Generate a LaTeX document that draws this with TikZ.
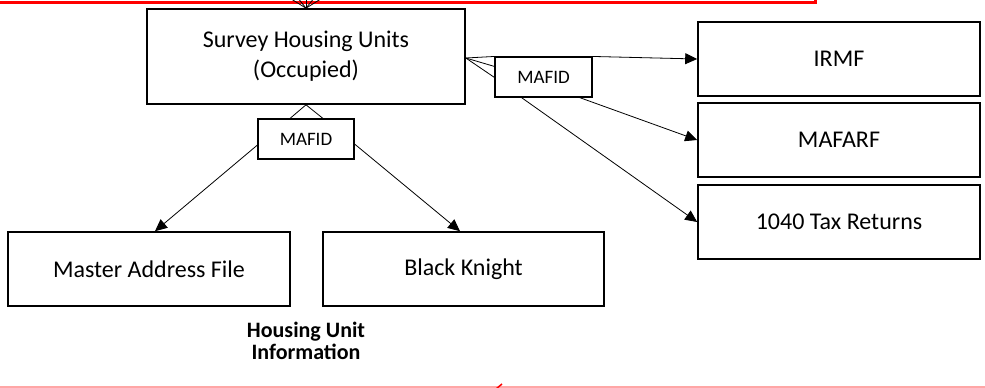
\documentclass[tikz,border=0pt]{standalone}
\usepackage{fontspec}
\setmainfont{Carlito}
\usetikzlibrary{arrows.meta,calc}
\tikzset{
  box/.style={draw, line width=1.6pt, rectangle, inner sep=0pt, minimum width=282pt, minimum height=74pt, align=center, font=\fontsize{24}{30}\selectfont},
  keybox/.style={draw, line width=1.1pt, rectangle, inner sep=0pt, minimum width=96pt, minimum height=40pt, font=\fontsize{19}{23}\selectfont},
  conn/.style={line width=0.8pt},
  arr/.style={line width=0.8pt, -{Triangle[length=12pt,width=11pt]}},
}
\begin{document}
\begin{tikzpicture}[x=1pt,y=-1pt]
\useasboundingbox (0,0) rectangle (985,388);
% nodes
\node[box, minimum width=318pt, minimum height=95pt] (survey) at (306,56.5) {Survey Housing Units\\(Occupied)};
\node[keybox] (m1) at (306,139) {MAFID};
\node[keybox, minimum width=97pt] (m2) at (543.5,77) {MAFID};
\node[box] (maf) at (149,269) {Master Address File};
\node[box, minimum width=281pt] (bk) at (463.5,269) {Black Knight};
\node[box] (irmf) at (839,59) {IRMF};
\node[box] (mafarf) at (839,140) {MAFARF};
\node[box] (tax) at (839,222) {1040 Tax Returns};
\node[font=\fontsize{22}{22}\selectfont\bfseries, align=center] (hui) at (306,341) {Housing Unit\\Information};
% partial frames (cut off at the edges)
\coordinate (redA) at (-5,2);
\coordinate (redB) at (815,2);
\coordinate (redC) at (815,-5);
\draw[red, line width=3pt] (redA) -- (redB) -- (redC);
\coordinate (pinkA) at (0,387);
\coordinate (pinkB) at (985,387);
\draw[red!35, line width=1.5pt] (pinkA) -- (pinkB);
\coordinate (tickA) at (496,389);
\coordinate (tickB) at (502,384);
\draw[red, line width=1.5pt] (tickA) -- (tickB);
% crow's foot entering survey from above
\foreach \dx [count=\i] in {-16,-8,0,8,16} {
  \coordinate (top\i) at ($(survey.north)+(\dx,-10)$);
  \draw[conn] (survey.north) -- (top\i);
}
% crow's foot survey -> m1
\draw[conn] (survey.south) -- ([xshift=-16pt]m1.north);
\draw[conn] (survey.south) -- ([xshift=17pt]m1.north);
% m1 -> maf, bk
\draw[arr] ([yshift=-6pt]m1.west) -- ([xshift=6pt]maf.north);
\draw[arr] ([yshift=-5pt]m1.east) -- ([xshift=-3.5pt]bk.north);
% crow's foot survey -> m2
\coordinate (apex) at ([yshift=-1.5pt]survey.east);
\draw[conn] (apex) -- (m2.north west);
\draw[conn] (apex) -- ([yshift=-10pt]m2.north west);
\draw[conn] (apex) -- ([yshift=-21pt]m2.north west);
% m2 -> right boxes
\draw[arr] (m2.north east) -- (irmf.west);
\draw[arr] ([xshift=-13pt]m2.south east) -- (mafarf.west);
\draw[arr] ([xshift=27pt]m2.south west) -- (tax.west);
\end{tikzpicture}
\end{document}
